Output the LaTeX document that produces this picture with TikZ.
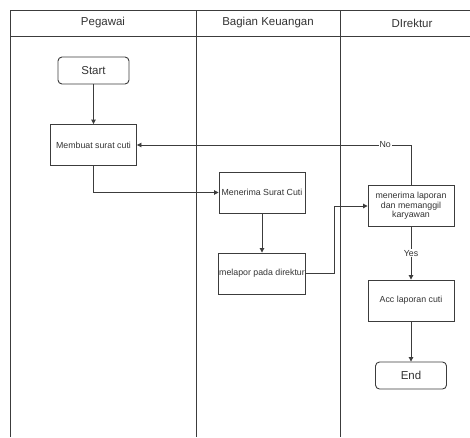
\documentclass[tikz,border=0pt]{standalone}
\usepackage{fontspec}
\setmainfont{Liberation Sans}
\usetikzlibrary{arrows.meta}
\definecolor{ln}{HTML}{3C3C3C}
\definecolor{tx}{HTML}{333333}
\begin{document}
\begin{tikzpicture}[x=1pt,y=-1pt,
  lane/.style={draw=ln,line width=0.9pt},
  proc/.style={draw=ln,line width=0.9pt,fill=white,minimum width=86pt,minimum height=41pt,inner sep=1pt,font=\fontsize{8.8}{9.4}\selectfont,text=tx,align=center},
  term/.style={draw=ln,line width=0.9pt,rounded corners=4pt,fill=white,minimum width=71pt,minimum height=27pt,inner sep=1pt,font=\fontsize{11.5}{13}\selectfont,text=tx},
  head/.style={font=\fontsize{11.5}{13}\selectfont,text=tx},
  conn/.style={draw=ln,line width=0.9pt,-{Triangle[length=4.5pt,width=4.5pt]}},
  lbl/.style={fill=white,inner sep=1pt,font=\fontsize{8.8}{10}\selectfont,text=tx}
]
\useasboundingbox (0,0) rectangle (470,437);
% swimlanes
\draw[lane] (10,437) -- (10,10) -- (470,10);
\draw[lane] (10,36) -- (470,36);
\draw[lane] (196,10) -- (196,437);
\draw[lane] (340,10) -- (340,437);
\node[head] (h1) at (103,23) {Pegawai};
\node[head] (h2) at (268,23) {Bagian Keuangan};
\node[head] (h3) at (412,23) {DIrektur};
% nodes
\node[term] (start) at (93.5,70.5) {Start};
\node[proc] (buat) at (93.5,145) {Membuat surat cuti};
\node[proc] (terima) at (262,192.5) {Menerima Surat Cuti};
\node[proc] (lapor) at (262,273.5) {melapor pada direktur};
\node[proc] (dir) at (411,206) {menerima laporan\\dan memanggil\\karyawan};
\node[proc] (acc) at (411,300.5) {Acc laporan cuti};
\node[term] (end) at (411,375.5) {End};
% connectors
\draw[conn] (start) -- (buat);
\draw[conn] (buat.south) |- (terima.west);
\draw[conn] (terima) -- (lapor);
\draw[conn] (lapor.east) -- ++(28,0) |- (dir.west);
\draw[conn] (dir.north) |- (buat.east) node[lbl,pos=0.547] {No};
\draw[conn] (dir) -- node[lbl] {Yes} (acc);
\draw[conn] (acc) -- (end);
\end{tikzpicture}
\end{document}
